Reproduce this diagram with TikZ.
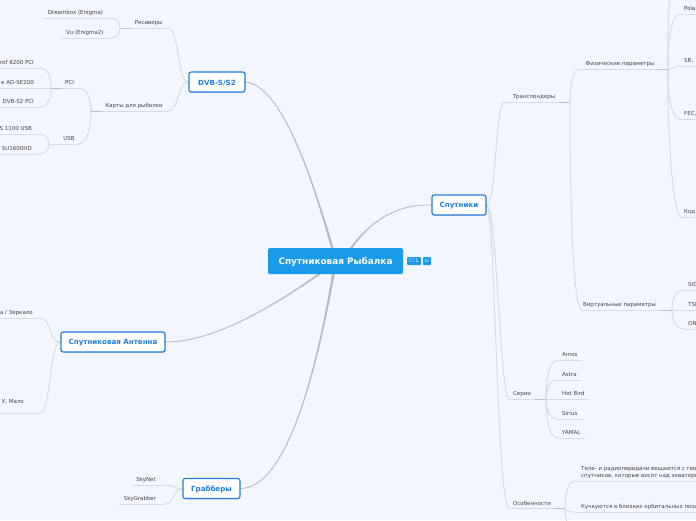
\documentclass[tikz,border=0pt]{standalone}
\usepackage{fontspec}
\setmainfont{DejaVu Sans}
\usetikzlibrary{calc,backgrounds,shadows}
\definecolor{bgc}{HTML}{F3F6FE}
\definecolor{hubblue}{HTML}{1F7FE0}
\definecolor{rootblue}{HTML}{1A9AE8}
\definecolor{linkc}{HTML}{D9DBE3}
\definecolor{stubc}{HTML}{BDBFC6}
\definecolor{mainc}{HTML}{B9B9BB}
\definecolor{labelc}{HTML}{444444}
\tikzset{
  hub/.style={draw=hubblue,fill=white,line width=1.1pt,rounded corners=2.2pt,text=hubblue,
    font=\bfseries\fontsize{7.1}{9}\selectfont,inner sep=0pt,minimum height=20pt,
    drop shadow={shadow xshift=0.4pt,shadow yshift=-0.9pt,opacity=.3}},
  rootbox/.style={fill=rootblue,rounded corners=1.5pt,text=white,
    font=\bfseries\fontsize{8.9}{10}\selectfont,inner sep=0pt,minimum width=135pt,minimum height=26pt},
  lab/.style={text=labelc,font=\fontsize{5.5}{7.2}\selectfont,inner sep=0pt},
  link/.style={draw=linkc,line width=1pt,line cap=round},
  stub/.style={draw=stubc,line width=1pt},
  mainlink/.style={draw=mainc,fill=mainc,line width=0.8pt,line join=round},
  iconbox/.style={fill=rootblue,rounded corners=1pt,text=white,inner sep=0pt,
    font=\fontsize{5}{5}\selectfont,minimum height=8pt},
}
% label: name, text, x, y of text, anchor, line start x, line end x
\newcommand{\lbl}[7]{%
  \node[lab,anchor=#5] (#1) at (#3,#4+0.9) {#2};
  \coordinate (#1-a) at (#6,#4+6);
  \coordinate (#1-b) at (#7,#4+6);
  \begin{pgfonlayer}{background}\draw[link] (#1-a) -- (#1-b);\end{pgfonlayer}}
\newcommand{\brk}[2]{%
  \begin{pgfonlayer}{background}
  \draw[link] let \p1=(#1),\p2=(#2) in (\p1) .. controls (\x1,{\y1+0.55*(\y2-\y1)}) and ({\x1+0.3*(\x2-\x1)},\y2) .. (\p2);
  \end{pgfonlayer}}
\newcommand{\scv}[2]{%
  \begin{pgfonlayer}{background}
  \draw[link] let \p1=(#1),\p2=(#2) in (\p1) .. controls ({\x1+0.55*(\x2-\x1)},\y1) and ({\x1+0.45*(\x2-\x1)},\y2) .. (\p2);
  \end{pgfonlayer}}
\newcommand{\stb}[2]{%
  \begin{pgfonlayer}{background}\draw[stub] (#1) -- ++(#2,0);\end{pgfonlayer}}
% tapered root connector: thin end, two controls, thick end
\newcommand{\taper}[4]{%
  \begin{pgfonlayer}{background}
  \draw[mainlink] (#1) .. controls (#2) and (#3) .. ($(#4)+(0.8,0)$) -- ($(#4)+(-0.8,0)$) .. controls (#3) and (#2) .. (#1) -- cycle;
  \end{pgfonlayer}}
\begin{document}
\begin{tikzpicture}[x=1pt,y=-1pt]
\useasboundingbox (0,0) rectangle (696,520);
\clip (0,0) rectangle (696,520);
\begin{pgfonlayer}{background}
\fill[bgc] (0,0) rectangle (696,520);
\end{pgfonlayer}

% main nodes
\node[rootbox] (root) at (335.5,261) {\raisebox{-1.3pt}[\height][\depth]{Спутниковая Рыбалка}};
\node[hub,minimum width=56pt] (dvb) at (217,82) {\raisebox{-0.8pt}[\height][\depth]{DVB-S/S2}};
\node[hub,minimum width=54pt] (sat) at (459,205) {\raisebox{-0.8pt}[\height][\depth]{Спутники}};
\node[hub,minimum width=104pt] (ant) at (113,342) {\raisebox{-0.8pt}[\height][\depth]{Спутниковая Антенна}};
\node[hub,minimum width=57pt] (grab) at (211.5,488.5) {\raisebox{-0.8pt}[\height][\depth]{Грабберы}};

% root icons
\node[iconbox,minimum width=14pt] (ic1) at (414,261) {☐ 1};
\node[iconbox,minimum width=8pt] (ic2) at (427,261) {U};

% DVB side
\lbl{res}{Ресиверы}{148.7}{22}{center}{120}{168}
\lbl{dream}{Dreambox (Enigma)}{75.5}{12}{center}{43}{110}
\lbl{vu}{Vu (Enigma2)}{85}{32}{center}{61}{110}
\lbl{cards}{Карты для рыбалки}{134}{105}{center}{91}{168}
\lbl{pci}{PCI}{69.5}{82}{center}{51}{78}
\lbl{usb}{USB}{69}{138}{center}{49}{78}
\lbl{prof}{rof 6200 PCI}{34}{62}{east}{0}{40}
\lbl{adse}{e AD-SE200}{34}{82}{east}{0}{51}
\lbl{dvbpci}{DVB-S2 PCI}{34}{101}{east}{0}{40}
\lbl{s1100}{S 1100 USB}{32}{128}{east}{0}{38}
\lbl{su}{SU1600HD}{32}{148}{east}{0}{38}
\scv{dvb.west}{res-b}
\scv{dvb.west}{cards-b}
\brk{res-a}{dream-b}
\brk{res-a}{vu-b}
\brk{cards-a}{pci-b}
\brk{cards-a}{usb-b}
\brk{pci-a}{prof-b}
\brk{pci-a}{dvbpci-b}
\brk{usb-a}{s1100-b}
\brk{usb-a}{su-b}
\stb{res-a}{11}
\stb{cards-a}{11}
\stb{pci-a}{11}

% antenna side
\lbl{mirror}{а / Зеркало}{33}{312}{east}{0}{40}
\node[lab,anchor=east] (malo) at (24,401.9) {У, Мало};
\coordinate (malo-a) at (0,413);
\coordinate (malo-b) at (40,413);
\begin{pgfonlayer}{background}\draw[link] (malo-a) -- (malo-b);\end{pgfonlayer}
\scv{ant.west}{mirror-b}
\scv{ant.west}{malo-b}

% grabbers
\lbl{skynet}{SkyNet}{146}{479}{center}{132}{165}
\lbl{skygr}{SkyGrabber}{140}{498}{center}{119}{165}
\scv{grab.west}{skynet-b}
\scv{grab.west}{skygr-b}

% satellites side
\lbl{trans}{Транспондеры}{534}{96}{center}{505}{570}
\lbl{phys}{Физические параметры}{620}{63}{center}{580}{668}
\lbl{virt}{Виртуальные параметры}{619.5}{304}{center}{582}{672}
\lbl{pola}{Pola}{684}{8}{west}{680}{697}
\lbl{srr}{SR,}{684}{60}{west}{680}{697}
\lbl{fec}{FEC,}{684}{113}{west}{680}{697}
\lbl{kod}{Код}{684}{211}{west}{680}{697}
\lbl{sid}{SID}{688}{284}{west}{684}{697}
\lbl{tsid}{TSI}{688}{304}{west}{672}{697}
\lbl{onid}{ON}{688}{323}{west}{684}{697}
\lbl{seri}{Серии}{522}{393}{center}{509}{546}
\lbl{amos}{Amos}{562}{354}{west}{558}{582}
\lbl{astra}{Astra}{562}{374}{west}{558}{581}
\lbl{hot}{Hot Bird}{562}{393}{west}{546}{589}
\lbl{sirius}{Sirius}{562}{413}{west}{558}{582}
\lbl{yamal}{YAMAL}{562}{432}{west}{558}{585}
\lbl{feat}{Особенности}{532}{502}{center}{509}{565}
\node[lab,anchor=north west,align=left] (tele) at (581,466.2) {Теле- и радиопередачи вещаются с гео\\спутников, которые висят над экваторо};
\coordinate (tele-a) at (575,481);
\coordinate (tele-b) at (697,481);
\begin{pgfonlayer}{background}\draw[link] (tele-a) -- (tele-b);\end{pgfonlayer}
\lbl{kuch}{Кучкуются в близких орбитальных пози}{581}{506}{west}{575}{697}
\coordinate (below) at (568,525);
\coordinate (up) at (670,-5);

\scv{sat.east}{trans-a}
\begin{pgfonlayer}{background}
\draw[link] (sat.east) .. controls (497,205) and (500,399) .. (seri-a);
\draw[link] (sat.east) .. controls (495,205) and (497,508) .. (feat-a);
\draw[link] (phys-b) .. controls (668,60) and (667,30) .. (up);
\draw[link] (phys-b) .. controls (667,80) and (669,200) .. (kod-a);
\draw[link] (feat-b) .. controls (565,515) and (566,520) .. (below);
\end{pgfonlayer}
\brk{trans-b}{phys-a}
\brk{trans-b}{virt-a}
\brk{phys-b}{pola-a}
\brk{phys-b}{fec-a}
\scv{phys-b}{srr-a}
\brk{tsid-a}{sid-a}
\brk{tsid-a}{onid-a}
\brk{seri-b}{amos-a}
\brk{seri-b}{astra-a}
\brk{seri-b}{sirius-a}
\brk{seri-b}{yamal-a}
\brk{feat-b}{tele-a}
\brk{feat-b}{kuch-a}
\stb{trans-b}{-11}
\stb{phys-b}{-11}
\stb{virt-b}{-11}
\stb{seri-b}{-11}
\stb{feat-b}{-11}

% main connectors
\coordinate (rdvb) at ($(root.north)+(-3,1)$);
\coordinate (rsat) at ($(root.north)+(15,1)$);
\coordinate (rant) at ($(root.south)+(-15,-1)$);
\coordinate (rgrab) at ($(root.south)+(-2,-1)$);
\coordinate (c1) at (280,85);
\coordinate (c2) at (310,170);
\coordinate (c3) at (395,204);
\coordinate (c4) at (370,222);
\coordinate (c5) at (215,342);
\coordinate (c6) at (275,305);
\coordinate (c7) at (285,488);
\coordinate (c8) at (315,380);
\taper{dvb.east}{c1}{c2}{rdvb}
\taper{sat.west}{c3}{c4}{rsat}
\taper{ant.east}{c5}{c6}{rant}
\taper{grab.east}{c7}{c8}{rgrab}
\end{tikzpicture}
\end{document}
